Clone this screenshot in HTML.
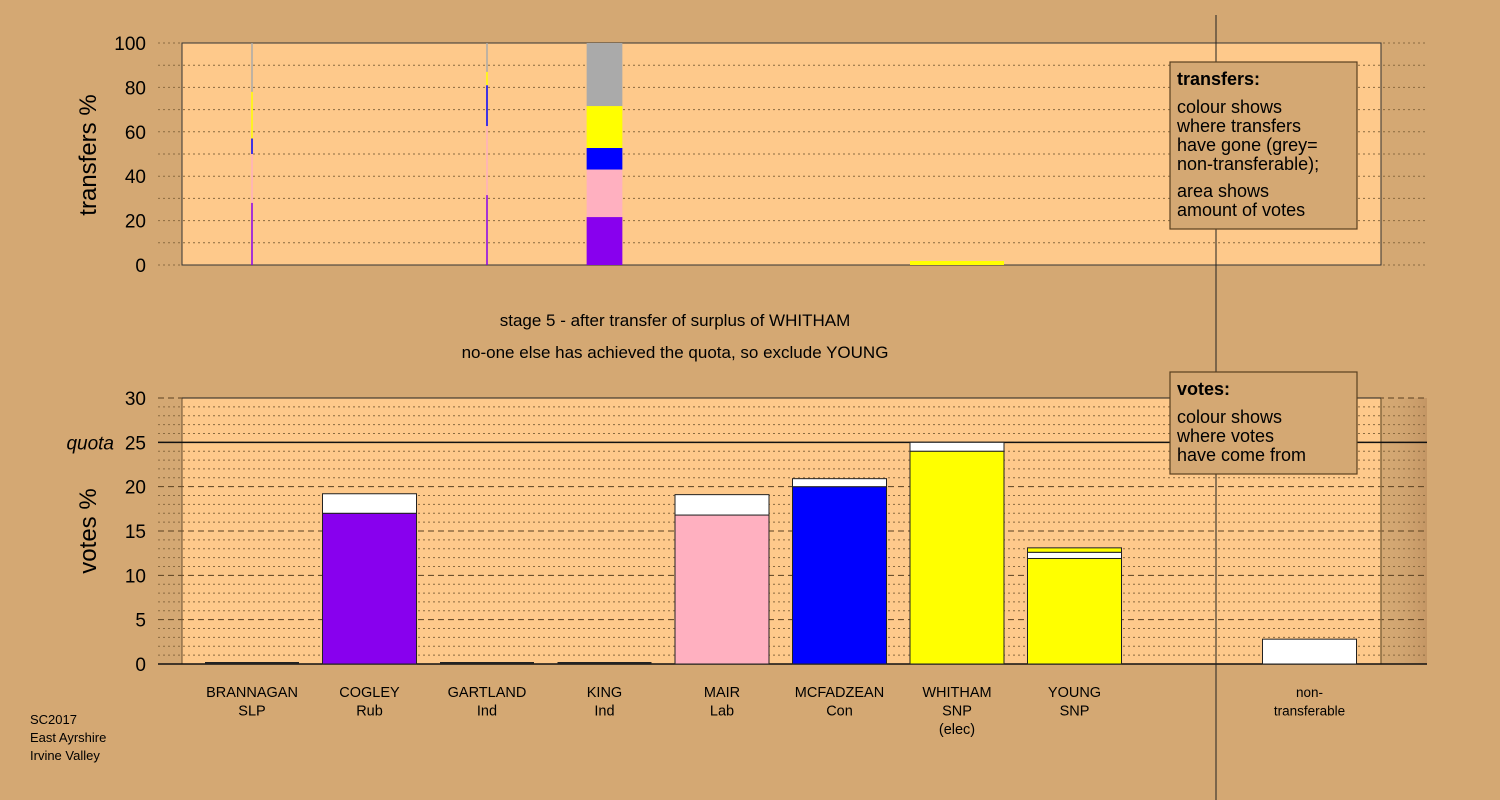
<!DOCTYPE html>
<html><head><meta charset="utf-8"><style>
html,body{margin:0;padding:0;background:#d4a873;}
svg{display:block;font-family:"Liberation Sans",Arial,sans-serif;}
</style></head><body>
<svg id="c" width="1500" height="800" viewBox="0 0 1500 800" xmlns="http://www.w3.org/2000/svg">
<defs>
<linearGradient id="shade" x1="0" x2="1" y1="0" y2="0">
<stop offset="0" stop-color="#d4a873" stop-opacity="0"/><stop offset="1" stop-color="#b8895a" stop-opacity="0.6"/>
</linearGradient>
</defs>
<rect x="0" y="0" width="1500" height="800" fill="#d4a873"/>
<g id="topPanel"></g>
<g id="botPanel"></g>
<line x1="1216" y1="15" x2="1216" y2="800" stroke="#222" stroke-width="1"/>
<g id="legends"></g>
<text x="675" y="326" font-size="17" text-anchor="middle" fill="#000">stage 5 - after transfer of surplus of WHITHAM</text>
<text x="675" y="358" font-size="17" text-anchor="middle" fill="#000">no-one else has achieved the quota, so exclude YOUNG</text>
<text transform="translate(96,155) rotate(-90)" font-size="24" text-anchor="middle">transfers %</text>
<text transform="translate(96,531) rotate(-90)" font-size="24" text-anchor="middle">votes %</text>
<g font-size="13" fill="#000">
<text x="30" y="724">SC2017</text><text x="30" y="742">East Ayrshire</text><text x="30" y="760">Irvine Valley</text>
</g>
</svg>
<script>
const candidates=["BRANNAGAN","COGLEY","GARTLAND","KING","MAIR","MCFADZEAN","WHITHAM","YOUNG","non-"];
const parties=["SLP","Rub","Ind","Ind","Lab","Con","SNP","SNP","transferable"];
const extra=["","","","","","","(elec)","",""];
const slotIndex=[0,1,2,3,4,5,6,7,9];
const baseVotes=[0,17.0,0,0,16.8,20.0,24.0,11.9,0];
const whiteVotes=[0,2.2,0,0,2.3,0.9,1.0,0.7,2.8];
const topVotes=[0,0,0,0,0,0,0,0.5,0];
const baseColors=["#8800ee","#8800ee","#8800ee","#8800ee","#ffb0c0","#0000ff","#ffff00","#ffff00","#ffffff"];
const quota=25;
const voteTicks=[0,5,10,15,20,25,30];
const transferTicks=[0,20,40,60,80,100];
const transferFrom=[0,2,3,6];
const transferWidthPct=[1,1,38,100];
const tPurple=[28,31.5,21.6,0];
const tPink=[22,31.1,21.4,0];
const tBlue=[7,18.4,9.7,0];
const tYellow=[21,6,18.9,1.8];
const tGrey=[22,13,28.4,0];
const segColors=["#8800ee","#ffb0c0","#0000ff","#ffff00","#aaaaaa"];

const NS="http://www.w3.org/2000/svg";
function mk(tag,attrs,parent){const e=document.createElementNS(NS,tag);for(const k in attrs)e.setAttribute(k,attrs[k]);parent.appendChild(e);return e;}
const X0=182,X1=1381,LX0=158,LX1=1427;
const slotX=i=>252+i*117.5;
const BW=94;
const yT=v=>265-v*2.22;
const yV=v=>664-v*(266/30);

const topG=document.getElementById('topPanel'),botG=document.getElementById('botPanel');
let r=mk('rect',{x:X0,y:43,width:X1-X0,height:222,fill:'#fec98b'},topG);


for(let v=0;v<=100;v+=10){
  let l=mk('line',{x1:LX0,x2:LX1,y1:yT(v),y2:yT(v),stroke:'#8a6a40','stroke-width':1,'stroke-dasharray':'2,3'},topG);
  
  
}
mk('rect',{x:X0,y:43,width:X1-X0,height:222,fill:'none',stroke:'#333','stroke-width':1},topG);
transferTicks.forEach(v=>{
  let t=mk('text',{x:146,y:yT(v)+7,'font-size':19,'text-anchor':'end'},topG);t.textContent=v;
  
  
});
transferFrom.forEach((ci,k)=>{
  const w=Math.max(1.5,BW*transferWidthPct[k]/100);const cx=slotX(ci);
  const segs=[tPurple[k],tPink[k],tBlue[k],tYellow[k],tGrey[k]];let acc=0;
  segs.forEach((s,j)=>{if(s<=0)return;
    let b=mk('rect',{x:cx-w/2,y:yT(acc+s),width:w,height:s*2.22,fill:segColors[j]},topG);
    
    
    acc+=s;});
});
r=mk('rect',{x:X0,y:398,width:X1-X0,height:266,fill:'#fec98b'},botG);


mk('rect',{x:X1,y:398,width:LX1-X1,height:266,fill:'url(#shade)'},botG);
for(let v=0;v<=30;v++){
  let major=v%5===0;
  let l=mk('line',{x1:LX0,x2:LX1,y1:yV(v),y2:yV(v),stroke:major?'#5a4020':'#8a6a40','stroke-width':1,'stroke-dasharray':major?'6,4':'2,3'},botG);
  
  
}
mk('line',{x1:X0,x2:X0,y1:398,y2:664,stroke:'#6a5030'},botG);
mk('line',{x1:X1,x2:X1,y1:398,y2:664,stroke:'#8a6a40','stroke-width':1.5},botG);
mk('line',{x1:X0,x2:X1,y1:398,y2:398,stroke:'#222'},botG);
let q=mk('line',{x1:LX0,x2:LX1,y1:yV(quota),y2:yV(quota),stroke:'#111','stroke-width':1.5},botG);


mk('line',{x1:LX0,x2:LX1,y1:664,y2:664,stroke:'#111','stroke-width':1.5},botG);
voteTicks.forEach(v=>{
  let t=mk('text',{x:146,y:yV(v)+7,'font-size':19,'text-anchor':'end'},botG);t.textContent=v;
  
  
});
let qt=mk('text',{x:114,y:yV(quota)+7,'font-size':19,'text-anchor':'end','font-style':'italic'},botG);qt.textContent='quota';


candidates.forEach((c,i)=>{
  const cx=slotX(slotIndex[i]),x=cx-BW/2;
  const parts=[[baseVotes[i],baseColors[i]],[whiteVotes[i],'#ffffff'],[topVotes[i],'#ffff00']];let acc=0;
  parts.forEach(([v,col],j)=>{
    if(v<=0)return;
    let b=mk('rect',{x:x,y:yV(acc+v),width:BW,height:v*266/30,fill:col,stroke:'#222','stroke-width':1},botG);
    
    
    acc+=v;});
  if(acc===0){mk('line',{x1:x,x2:x+BW,y1:663,y2:663,stroke:'#222','stroke-width':2},botG);}
  const lines=[c,parties[i],extra[i]].filter(s=>s);
  lines.forEach((s,k)=>{
    let t=mk('text',{x:cx,y:697+k*18.5,'font-size':i===8?13.5:14.5,'text-anchor':'middle'},botG);t.textContent=s;
    
    
  });
});
const lg=document.getElementById('legends');
function legend(y,h,title,lines,name){
  const g=mk('g',{},lg);
  
  
  mk('rect',{x:1170,y:y,width:187,height:h,fill:'#d4a873',stroke:'#5a4020','stroke-width':1.2},g);
  let t=mk('text',{x:1177,y:y+23,'font-size':18,'font-weight':'bold'},g);t.textContent=title;
  lines.forEach(([s,yy])=>{let tt=mk('text',{x:1177,y:y+yy,'font-size':18},g);tt.textContent=s;});
}
legend(62,167,'transfers:',[['colour shows',51],['where transfers',70],['have gone (grey=',89],['non-transferable);',108],['area shows',135],['amount of votes',154]],'transfers-legend');
legend(372,102,'votes:',[['colour shows',51],['where votes',70],['have come from',89]],'votes-legend');
</script>
</body></html>
